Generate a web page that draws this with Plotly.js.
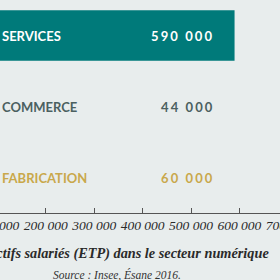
<!DOCTYPE html>
<html>
<head>
<meta charset="utf-8">
<script src="https://cdn.plot.ly/plotly-3.0.1.min.js"></script>
<style>
html, body { margin: 0; padding: 0; width: 280px; height: 280px; overflow: hidden; background: #e8eded; }
#chart { position: absolute; left: -51px; top: 0; width: 342px; height: 280px; }
</style>
</head>
<body>
<div id="chart"></div>
<script>
const categories = ["SERVICES", "COMMERCE", "FABRICATION"];
const values = [590000, 44000, 60000];
const valueLabels = ["590 000", "44 000", "60 000"];
const tickValues = [0, 100000, 200000, 300000, 400000, 500000, 600000, 700000];
const tickLabels = ["0", "100 000", "200 000", "300 000", "400 000", "500 000", "600 000", "700 000"];
const barColors = ["#007a7a", "#4b6060", "#c9a84b"];
const labelColors = ["#ffffff", "#4b6060", "#c9a84b"];

const annotations = [];
categories.forEach((c, i) => {
  annotations.push({
    x: 106000, y: c, xref: 'x', yref: 'y', xanchor: 'left', yanchor: 'middle',
    text: '<b>' + c + '</b>', showarrow: false,
    font: {family: 'Lato', size: 13, color: labelColors[i]}
  });
  annotations.push({
    x: 552500, y: c, xref: 'x', yref: 'y', xanchor: 'right', yanchor: 'middle',
    text: '<b><span style="letter-spacing:2.1px">' + valueLabels[i] + '</span></b>', showarrow: false,
    font: {family: 'Lato', size: 13, color: labelColors[i]}
  });
});
annotations.push({
  x: 0.49, y: -0.29, xref: 'paper', yref: 'paper', xanchor: 'center', yanchor: 'middle',
  text: '<i>Source : Insee, Ésane 2016.</i>', showarrow: false,
  font: {family: 'Liberation Serif', size: 11.5, color: '#333333'}
});

Plotly.newPlot('chart', [{
  type: 'bar', orientation: 'h', y: categories, x: values,
  marker: {color: barColors}, hoverinfo: 'none'
}], {
  width: 342, height: 280,
  margin: {l: 0, r: 0, t: 0, b: 67},
  paper_bgcolor: '#e8eded', plot_bgcolor: '#e8eded',
  bargap: 0.29,
  showlegend: false,
  xaxis: {
    range: [0, 706600], tickvals: tickValues, ticktext: tickLabels.map(t => '<i>' + t + '</i>'),
    ticklabeloverflow: 'allow',
    showgrid: false, zeroline: false, showline: true, linecolor: '#555555', linewidth: 1,
    ticks: 'inside', ticklen: 5, tickcolor: '#555555',
    tickfont: {family: 'Liberation Serif', size: 13.5, color: '#2a2a2a'},
    title: {text: '<b><i>Effectifs salariés (ETP) dans le secteur numérique</i></b>',
      font: {family: 'Liberation Serif', size: 14.3, color: '#2a2a2a'}, standoff: 15}
  },
  yaxis: {
    autorange: 'reversed', showticklabels: false, showgrid: false, zeroline: false, showline: false, ticks: ''
  },
  annotations: annotations
}, {staticPlot: true, displayModeBar: false});
</script>
</body>
</html>
